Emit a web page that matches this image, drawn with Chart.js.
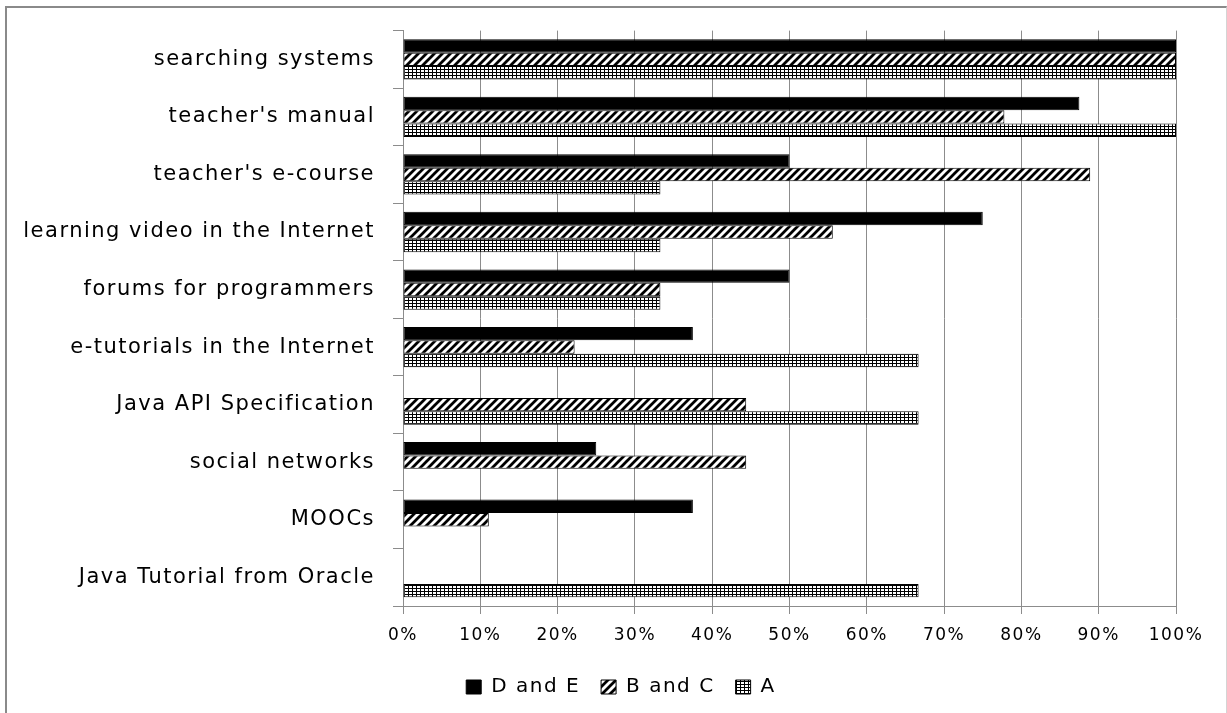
<!DOCTYPE html>
<html>
<head>
<meta charset="utf-8">
<script src="https://cdn.jsdelivr.net/npm/chart.js@4.4.1/dist/chart.umd.min.js"></script>
<style>
  html, body { margin: 0; padding: 0; background: #fff; overflow: hidden; }
  #wrap { position: absolute; left: 0; top: 0; width: 1227px; height: 713px; }
  #frame {
    position: absolute; left: 5px; top: 6px; width: 1219px; height: 760px;
    border-left: 2px solid #8a8a8a; border-top: 2px solid #8a8a8a; border-right: 1px solid #d4d4d4;
    pointer-events: none;
  }
</style>
</head>
<body>
<div id="wrap">
  <canvas id="c" width="1227" height="713"></canvas>
  <div id="frame"></div>
</div>
<script>
// Learning resources used, by group (share of respondents, %)
const categories = [
  "searching systems",
  "teacher's manual",
  "teacher's e-course",
  "learning video in the Internet",
  "forums for programmers",
  "e-tutorials in the Internet",
  "Java API Specification",
  "social networks",
  "MOOCs",
  "Java Tutorial from Oracle"
];
const seriesNames = ["D and E", "B and C", "A"];
const dAndE  = [100, 87.5, 50,   75,   50,   37.5, 0,    25,   37.5, 0];
const bAndC  = [100, 77.8, 88.9, 55.6, 33.3, 22.2, 44.4, 44.4, 11.1, 0];
const groupA = [100, 100,  33.3, 33.3, 33.3, 66.7, 66.7, 0,    0,    66.7];
const xTickValues = [0, 10, 20, 30, 40, 50, 60, 70, 80, 90, 100];

const FONT = "'DejaVu Sans', 'Open Sans', sans-serif";
const GRID = '#8c8c8c';
const LETTER_SPACING = '1.5px';

// Fill patterns: solid black, wide upward diagonal, small grid
function diagonalPattern() {
  const s = 8;
  const c = document.createElement('canvas');
  c.width = s; c.height = s;
  const g = c.getContext('2d');
  g.fillStyle = '#fff';
  g.fillRect(0, 0, s, s);
  g.strokeStyle = '#000';
  g.lineWidth = 2.8;
  g.beginPath();
  for (let k = -s; k <= 2 * s; k += s) {
    g.moveTo(k - s - 2, s + 2);
    g.lineTo(k + 2, -2);
  }
  g.stroke();
  return g.createPattern(c, 'repeat');
}
function gridPattern() {
  const c = document.createElement('canvas');
  c.width = 4; c.height = 3;
  const g = c.getContext('2d');
  g.fillStyle = '#fff';
  g.fillRect(0, 0, 4, 3);
  g.fillStyle = '#000';
  g.fillRect(0, 0, 4, 1);
  g.fillRect(0, 0, 1, 3);
  return g.createPattern(c, 'repeat');
}

const fills = ['#000', diagonalPattern(), gridPattern()];
const values = [dAndE, bAndC, groupA];

const datasets = seriesNames.map((name, i) => ({
  label: name,
  data: values[i],
  backgroundColor: fills[i],
  borderColor: '#000',
  borderWidth: 1,
  borderSkipped: false,
  categoryPercentage: 0.7,
  barPercentage: 1.0
}));

// Wider text tracking for all labels (applied before measuring and drawing)
const trackingPlugin = {
  id: 'tracking',
  beforeUpdate(chart) { chart.ctx.letterSpacing = LETTER_SPACING; },
  beforeLayout(chart) { chart.ctx.letterSpacing = LETTER_SPACING; },
  beforeDraw(chart) { chart.ctx.letterSpacing = LETTER_SPACING; }
};

// Centre the legend row under the frame rather than the whole canvas
const legendSpanPlugin = {
  id: 'legendSpan',
  afterLayout(chart) {
    if (chart.legend) {
      chart.legend.left = 66;
      chart.legend.right = chart.chartArea.right;
    }
  }
};

new Chart(document.getElementById('c'), {
  type: 'bar',
  data: { labels: categories, datasets },
  plugins: [trackingPlugin, legendSpanPlugin],
  options: {
    indexAxis: 'y',
    responsive: false,
    animation: false,
    events: [],
    layout: { padding: { top: 28, right: 51, left: 0, bottom: 6 } },
    plugins: {
      legend: {
        position: 'bottom',
        labels: {
          boxWidth: 15,
          boxHeight: 14,
          padding: 21,
          color: '#000',
          font: { family: FONT, size: 20 }
        }
      },
      tooltip: { enabled: false }
    },
    scales: {
      x: {
        min: 0,
        max: 100,
        afterBuildTicks: (scale) => { scale.ticks = xTickValues.map(v => ({ value: v })); },
        afterFit: (scale) => { scale.height = 50; },
        ticks: {
          callback: (v) => v + '%',
          color: '#000',
          padding: 11,
          maxRotation: 0,
          font: { family: FONT, size: 17 }
        },
        grid: { color: GRID, lineWidth: 1, tickLength: 8, drawTicks: true },
        border: { color: GRID, width: 1 }
      },
      y: {
        afterFit: (scale) => { scale.width = 403; },
        ticks: {
          color: '#000',
          padding: 18,
          font: { family: FONT, size: 21 }
        },
        grid: { offset: true, drawOnChartArea: false, drawTicks: true, tickLength: 10, color: GRID },
        border: { color: GRID, width: 1 }
      }
    }
  }
});
</script>
</body>
</html>
